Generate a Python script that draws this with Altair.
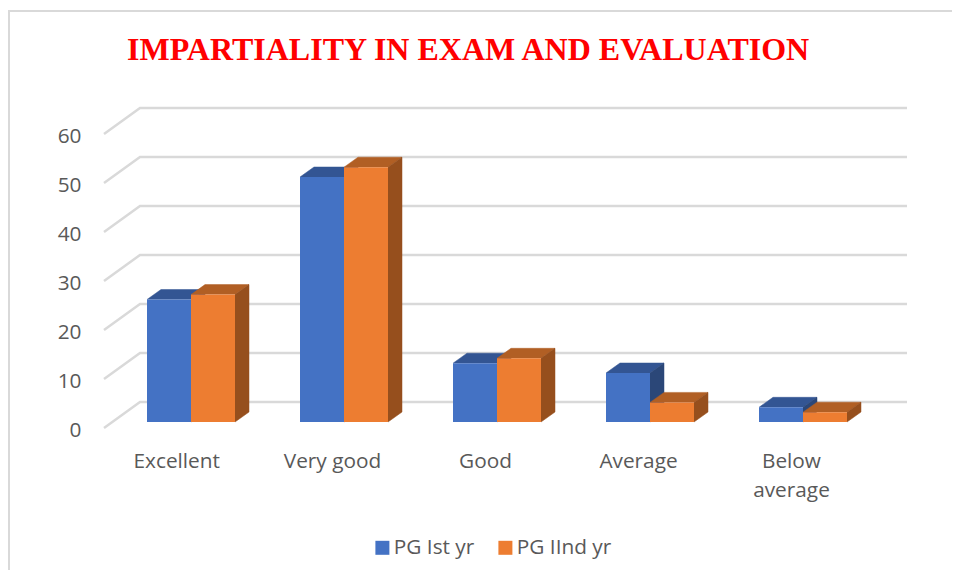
import altair as alt
import pandas as pd

categories = ["Excellent", "Very good", "Good", "Average", "Below average"]
pg_first = [25, 50, 12, 10, 3]
pg_second = [26, 52, 13, 4, 2]
series_names = ["PG Ist yr", "PG IInd yr"]
y_ticks = [0, 10, 20, 30, 40, 50, 60]

# geometry of the pseudo-3D projection, in scale units
PX_PER_VALUE = 4.9
PX_PER_CAT = 153.0
BAR_W = 44 / PX_PER_CAT
DEPTH_X = 14 / PX_PER_CAT
DEPTH_Y = 10 / PX_PER_VALUE
WALL_Y = 20 / PX_PER_VALUE
FLOOR_Y = -6 / PX_PER_VALUE
LEFT = 104
RIGHT = 907
TOP = 100
BOTTOM = 428
W = RIGHT - LEFT
H = BOTTOM - TOP


def xv(px):
    return (px - 191) / PX_PER_CAT


def yv(px):
    return (422 - px) / PX_PER_VALUE


x_scale = alt.Scale(domain=[xv(LEFT), xv(RIGHT)], nice=False, zero=False)
y_scale = alt.Scale(domain=[yv(BOTTOM), yv(TOP)], nice=False, zero=False)

cat_expr = "round(datum.value)==4?['Below','average']:[" + ",".join(
    f"'{c}'" for c in categories[:4]
) + "][round(datum.value)]"

X = alt.X(
    "x:Q",
    scale=x_scale,
    axis=alt.Axis(
        values=[-0.018, 1, 2, 3, 4],
        labelExpr=cat_expr,
        title=None,
        grid=False,
        domain=False,
        ticks=False,
        labelPadding=23,
        labelOffset=-12,
        labelFontSize=20.8,
        labelFont="Open Sans",
        labelColor="#595959",
        labelLineHeight=29,
        labelBaseline="top",
        labelFlush=False,
        labelOverlap=False,
    ),
)
Y = alt.Y(
    "y:Q",
    scale=y_scale,
    stack=False,
    axis=alt.Axis(
        values=y_ticks,
        title=None,
        grid=False,
        domain=False,
        ticks=False,
        labelPadding=23,
        labelOffset=8.5,
        labelFontSize=20.8,
        labelFont="Open Sans",
        labelColor="#595959",
    ),
)

fills = ["#4472c4", "#ed7d31"]
tops = ["#335593", "#b15f24"]
sides = ["#2b4778", "#964f1d"]

front, top_faces, side_faces = [], [], []
for s, values in enumerate([pg_first, pg_second]):
    for c, v in enumerate(values):
        x0 = c - BAR_W + s * BAR_W
        x1 = x0 + BAR_W
        key = f"{s}-{c}"
        front.append({"s": s, "x": x0, "x2": x1, "y": v, "y2": 0, "series": series_names[s]})
        top_faces += [
            {"k": key, "s": s, "i": 0, "x": x0, "y": v},
            {"k": key, "s": s, "i": 1, "x": x0 + DEPTH_X, "y": v + DEPTH_Y},
            {"k": key, "s": s, "i": 2, "x": x1 + DEPTH_X, "y": v + DEPTH_Y},
            {"k": key, "s": s, "i": 3, "x": x1, "y": v},
        ]
        side_faces += [
            {"k": key, "s": s, "i": 0, "x": x1, "y": v},
            {"k": key, "s": s, "i": 1, "x": x1 + DEPTH_X, "y": v + DEPTH_Y},
            {"k": key, "s": s, "i": 2, "x": x1 + DEPTH_X, "y": DEPTH_Y},
            {"k": key, "s": s, "i": 3, "x": x1, "y": 0},
        ]

grid = []
for t in y_ticks:
    wall = t + WALL_Y
    grid += [
        {"t": t, "x": xv(LEFT), "y": t + FLOOR_Y},
        {"t": t, "x": xv(140), "y": wall},
        {"t": t, "x": xv(RIGHT), "y": wall},
    ]

frame = [
    {"i": 0, "x": xv(9), "y": yv(570)},
    {"i": 1, "x": xv(9), "y": yv(11)},
    {"i": 2, "x": xv(952), "y": yv(11)},
]

grid_layer = (
    alt.Chart(pd.DataFrame(grid))
    .mark_line(color="#d9d9d9", strokeWidth=2.5, clip=False)
    .encode(x=X, y=Y, detail="t:N", order="x:Q")
)
frame_layer = (
    alt.Chart(pd.DataFrame(frame))
    .mark_line(color="#d9d9d9", strokeWidth=2, clip=False)
    .encode(x=X, y=Y, order="i:Q")
)


def face(rows, s, colour):
    sub = [r for r in rows if r["s"] == s]
    return (
        alt.Chart(pd.DataFrame(sub))
        .mark_line(fill=colour, stroke=colour, strokeWidth=0.5, clip=False)
        .encode(x=X, y=Y, detail="k:N", order="i:Q")
    )


def front_bars(s):
    sub = [r for r in front if r["s"] == s]
    return (
        alt.Chart(pd.DataFrame(sub))
        .mark_bar(clip=False)
        .encode(
            x=X,
            x2="x2:Q",
            y=Y,
            y2="y2:Q",
            color=alt.Color(
                "series:N",
                scale=alt.Scale(domain=series_names, range=fills),
                legend=alt.Legend(
                    title=None,
                    orient="none",
                    direction="horizontal",
                    legendX=268,
                    legendY=437,
                    symbolType="square",
                    symbolSize=196,
                    symbolStrokeWidth=0,
                    labelFont="Open Sans",
                    labelFontSize=20.8,
                    labelColor="#595959",
                    labelOffset=1,
                    columnPadding=20,
                ),
            ),
        )
    )


layers = [frame_layer, grid_layer]
for s in range(2):
    layers += [face(top_faces, s, tops[s]), face(side_faces, s, sides[s]), front_bars(s)]

chart = (
    alt.layer(*layers)
    .properties(
        width=W,
        height=H,
        autosize="none",
        padding={"left": LEFT - 8, "top": TOP - 8, "right": 952 - RIGHT, "bottom": 570 - BOTTOM},
        title=alt.TitleParams(
            "IMPARTIALITY IN EXAM AND EVALUATION",
            font="Liberation Serif",
            fontSize=32,
            fontWeight="bold",
            color="#ff0000",
            anchor="start",
            frame="group",
            dx=23,
            offset=-60,
        ),
    )
    .configure_view(stroke=None)
)

chart.save("out.html", embed_options={"renderer": "svg", "actions": False})
